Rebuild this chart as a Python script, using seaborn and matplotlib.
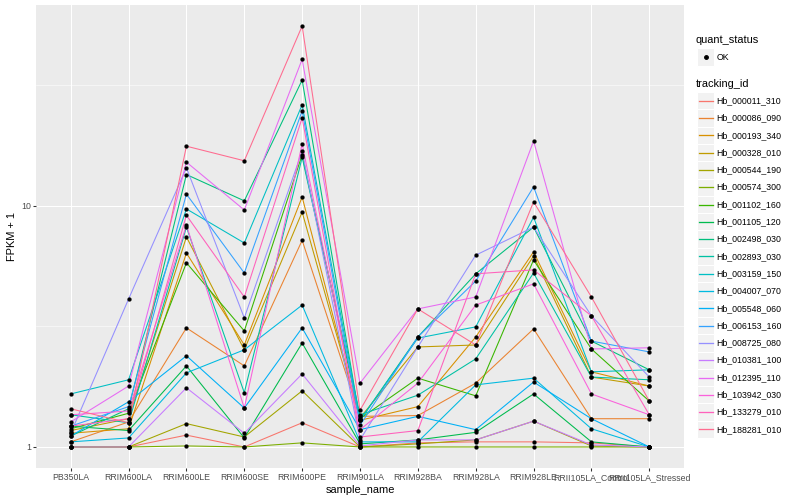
import matplotlib
matplotlib.use("Agg")
import matplotlib.pyplot as plt
from matplotlib.patches import Rectangle
from matplotlib.lines import Line2D
from matplotlib.ticker import FixedLocator, NullFormatter
import seaborn as sns
import pandas as pd

# ---------------- data ----------------
samples = ["PB350LA", "RRIM600LA", "RRIM600LE", "RRIM600SE", "RRIM600PE", "RRIM901LA",
           "RRIM928BA", "RRIM928LA", "RRIM928LE", "RRII105LA_Control", "RRII105LA_Stressed"]

tracking_ids = ["Hb_000011_310", "Hb_000086_090", "Hb_000193_340", "Hb_000328_010",
                "Hb_000544_190", "Hb_000574_300", "Hb_001102_160", "Hb_001105_120",
                "Hb_002498_030", "Hb_002893_030", "Hb_003159_150", "Hb_004007_070",
                "Hb_005548_060", "Hb_006153_160", "Hb_008725_080", "Hb_010381_100",
                "Hb_012395_110", "Hb_103942_030", "Hb_133279_010", "Hb_188281_010"]

# FPKM + 1 per sample, in sample order
hb_000011_310 = [1.00, 1.00, 1.12, 1.00, 1.26, 1.00, 1.04, 1.05, 1.05, 1.04, 1.00]
hb_000086_090 = [1.05, 1.27, 3.12, 2.17, 7.20, 1.34, 1.35, 1.84, 3.09, 1.31, 1.31]
hb_000193_340 = [1.14, 1.19, 6.38, 2.65, 10.9, 1.29, 1.47, 2.86, 6.45, 2.05, 1.79]
hb_000328_010 = [1.17, 1.31, 7.44, 2.53, 9.43, 1.32, 2.60, 2.65, 6.20, 1.95, 1.79]
hb_000544_190 = [1.00, 1.00, 1.25, 1.10, 1.71, 1.00, 1.03, 1.07, 1.28, 1.01, 1.00]
hb_000574_300 = [1.00, 1.00, 1.01, 1.00, 1.04, 1.00, 1.00, 1.00, 1.00, 1.00, 1.00]
hb_001102_160 = [1.19, 1.38, 5.81, 3.03, 16.3, 1.31, 1.93, 1.63, 5.97, 2.55, 1.55]
hb_001105_120 = [1.22, 1.17, 2.17, 1.09, 2.70, 1.03, 1.07, 1.15, 1.66, 1.05, 1.00]
hb_002498_030 = [1.11, 1.44, 13.5, 10.5, 33.3, 1.29, 2.86, 5.23, 8.17, 2.75, 2.09]
hb_002893_030 = [1.36, 1.26, 8.17, 1.68, 15.9, 1.36, 1.64, 2.32, 5.27, 1.95, 1.90]
hb_003159_150 = [1.66, 1.90, 9.72, 7.02, 26.3, 1.29, 2.83, 3.15, 8.98, 2.05, 2.09]
hb_004007_070 = [1.05, 1.09, 2.03, 2.53, 3.88, 1.05, 1.05, 1.81, 1.93, 1.19, 1.00]
hb_005548_060 = [1.11, 1.54, 2.39, 1.45, 3.12, 1.18, 1.34, 1.18, 1.86, 1.31, 1.00]
hb_006153_160 = [1.22, 1.47, 11.2, 5.27, 24.8, 1.23, 2.86, 4.88, 12.0, 2.75, 2.48]
hb_008725_080 = [1.14, 4.11, 14.4, 3.43, 16.9, 1.07, 2.60, 6.25, 8.17, 3.50, 1.95]
hb_010381_100 = [1.00, 1.00, 1.76, 1.14, 2.01, 1.01, 1.07, 1.07, 1.28, 1.02, 1.00]
hb_012395_110 = [1.27, 1.79, 15.2, 9.62, 40.6, 1.84, 3.74, 4.19, 18.6, 2.55, 2.58]
hb_103942_030 = [1.36, 1.41, 8.33, 1.45, 18.1, 1.18, 1.84, 3.88, 4.75, 1.66, 1.36]
hb_133279_010 = [1.22, 1.31, 9.15, 4.19, 23.2, 1.10, 1.17, 5.23, 5.43, 3.50, 1.36]
hb_188281_010 = [1.44, 1.26, 17.7, 15.4, 55.8, 1.42, 3.74, 2.65, 10.4, 4.19, 1.55]

series = [hb_000011_310, hb_000086_090, hb_000193_340, hb_000328_010, hb_000544_190,
          hb_000574_300, hb_001102_160, hb_001105_120, hb_002498_030, hb_002893_030,
          hb_003159_150, hb_004007_070, hb_005548_060, hb_006153_160, hb_008725_080,
          hb_010381_100, hb_012395_110, hb_103942_030, hb_133279_010, hb_188281_010]

quant_status = ["OK"]

# ggplot2 default hue palette for 20 levels
colors = ["#F8766D", "#EA8331", "#D89000", "#C09B00", "#A3A500", "#7CAE00", "#39B600",
          "#00BB4E", "#00BF7D", "#00C1A3", "#00BFC4", "#00BAE0", "#00B0F6", "#35A2FF",
          "#9590FF", "#C77CFF", "#E76BF3", "#FA62DB", "#FF62BC", "#FF6C90"]

rows = []
for tid, vals in zip(tracking_ids, series):
    for s, v in zip(samples, vals):
        rows.append({"sample_name": s, "tracking_id": tid, "fpkm": v, "quant_status": "OK"})
df = pd.DataFrame(rows)

# ---------------- figure ----------------
W, H, DPI = 800, 500, 72
plt.rcParams["font.family"] = ["Liberation Sans", "DejaVu Sans"]
fig = plt.figure(figsize=(W / DPI, H / DPI), dpi=DPI)
fig.patch.set_facecolor("white")

left, right, top, bottom = 36.0, 684.0, 5.0, 468.0
ax = fig.add_axes([left / W, 1 - bottom / H, (right - left) / W, (bottom - top) / H])
ax.set_facecolor("#EBEBEB")

palette = dict(zip(tracking_ids, colors))
sns.lineplot(data=df, x="sample_name", y="fpkm", hue="tracking_id", hue_order=tracking_ids,
             palette=palette, estimator=None, sort=False, legend=False, lw=1.07, ax=ax,
             zorder=3)
sns.scatterplot(data=df, x="sample_name", y="fpkm", color="black", marker="o", s=15,
                edgecolor="black", linewidth=0.3, legend=False, ax=ax, zorder=4)

ax.set_yscale("log")
ax.set_xlim(-0.6, len(samples) - 1 + 0.6)
ax.set_ylim(0.818, 68.2)
ax.yaxis.set_major_locator(FixedLocator([1, 10]))
ax.set_yticklabels(["1", "10"])
ax.yaxis.set_minor_locator(FixedLocator([10 ** 0.5, 10 ** 1.5]))
ax.yaxis.set_minor_formatter(NullFormatter())
ax.set_xticks(range(len(samples)))
ax.set_xticklabels(samples)

ax.grid(True, which="major", color="white", lw=1.07, zorder=0)
ax.grid(True, which="minor", axis="y", color="white", lw=0.53, zorder=0)
ax.set_axisbelow(True)
for sp in ax.spines.values():
    sp.set_visible(False)
ax.tick_params(axis="both", which="major", length=2.75, width=1.07, color="#333333",
               labelcolor="#4D4D4D", labelsize=8.8, pad=2.2)
ax.tick_params(axis="y", which="minor", length=0)

ax.set_xlabel("sample_name", fontsize=11, color="black", labelpad=3)
ax.set_ylabel("FPKM + 1", fontsize=11, color="black", labelpad=4)

# ---------------- legends (ggplot style) ----------------
def fx(px):
    return px / W

def fy(py):
    return 1 - py / H

key_x0, key_w = 697.0, 17.3
text_x = 716.5

fig.text(fx(696), fy(40), "quant_status", fontsize=11, va="center", ha="left")
fig.add_artist(Rectangle((fx(key_x0), fy(57 + key_w / 2)), key_w / W, key_w / H,
                         transform=fig.transFigure, facecolor="#F2F2F2", edgecolor="white",
                         lw=1, zorder=1))
fig.add_artist(Line2D([fx(key_x0 + key_w / 2)], [fy(57)], marker="o", markersize=3.8,
                      color="black", transform=fig.transFigure, zorder=3))
fig.text(fx(text_x), fy(57), quant_status[0], fontsize=8.8, va="center", ha="left")

fig.text(fx(696), fy(84), "tracking_id", fontsize=11, va="center", ha="left")
y0, dy = 100.7, 17.3
for i, (tid, col) in enumerate(zip(tracking_ids, colors)):
    yc = y0 + i * dy
    fig.add_artist(Rectangle((fx(key_x0), fy(yc + key_w / 2)), key_w / W, key_w / H,
                             transform=fig.transFigure, facecolor="#F2F2F2",
                             edgecolor="white", lw=1, zorder=1))
    fig.add_artist(Line2D([fx(key_x0 + 1.5), fx(key_x0 + key_w - 1.5)], [fy(yc), fy(yc)],
                          color=col, lw=1.3, transform=fig.transFigure, zorder=3))
    fig.text(fx(text_x), fy(yc), tid, fontsize=8.8, va="center", ha="left")

fig.savefig("out.png", dpi=DPI, facecolor="white")
